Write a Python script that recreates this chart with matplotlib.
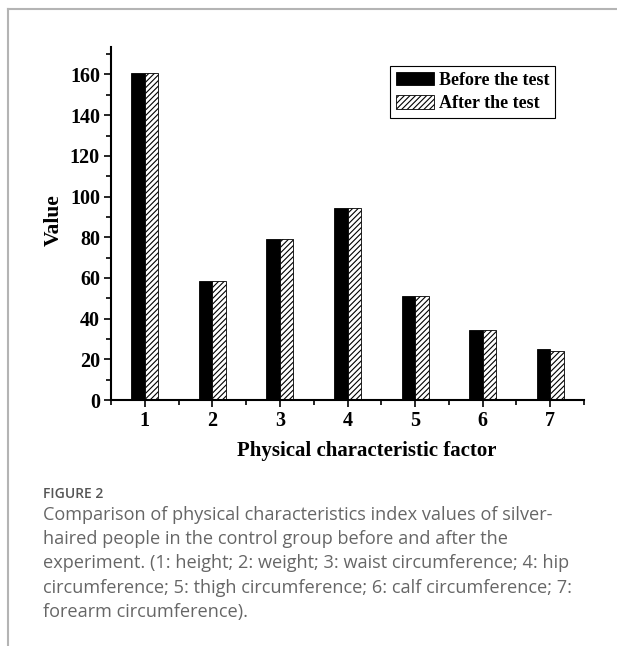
import matplotlib
matplotlib.use("Agg")
import matplotlib.pyplot as plt
import numpy as np
from matplotlib.lines import Line2D
from matplotlib.ticker import MultipleLocator

categories = [1, 2, 3, 4, 5, 6, 7]
before = [160.5, 58.6, 79.0, 94.2, 51.0, 34.6, 25.0]
after = [160.5, 58.6, 79.0, 94.2, 51.0, 34.6, 24.2]
labels = ["Before the test", "After the test"]
caption_head = "FIGURE 2"
caption_lines = [
    "Comparison of physical characteristics index values of silver-",
    "haired people in the control group before and after the",
    "experiment. (1: height; 2: weight; 3: waist circumference; 4: hip",
    "circumference; 5: thigh circumference; 6: calf circumference; 7:",
    "forearm circumference).",
]

plt.rcParams['hatch.linewidth'] = 0.8
serif = ['Liberation Serif', 'DejaVu Serif']

fig = plt.figure(figsize=(6.17, 6.46), dpi=100)
ax = fig.add_axes([0.18, 0.3808, 0.7665, 0.5464])

x = np.array(categories, dtype=float)
w = 0.2
ax.bar(x - w/2, before, width=w, color='black', edgecolor='black', linewidth=0.6, label=labels[0])
ax.bar(x + w/2, after, width=w, color='white', edgecolor='black', linewidth=0.6, hatch='//////', label=labels[1])

ax.set_xlim(0.5, 7.5)
ax.set_ylim(0, 173.5)
ax.xaxis.set_major_locator(MultipleLocator(1))
ax.xaxis.set_minor_locator(MultipleLocator(0.5))
ax.yaxis.set_major_locator(MultipleLocator(20))
ax.yaxis.set_minor_locator(MultipleLocator(10))
for s in ['top', 'right']:
    ax.spines[s].set_visible(False)
for s in ['left', 'bottom']:
    ax.spines[s].set_linewidth(1.5)
ax.tick_params(which='major', direction='out', length=5, width=1.2, labelsize=14.5, pad=3)
ax.tick_params(which='minor', direction='out', length=3.3, width=1.2)
for lab in ax.get_xticklabels() + ax.get_yticklabels():
    lab.set_fontfamily(serif)
    lab.set_fontweight('bold')

ax.set_xlabel("Physical characteristic factor", fontsize=15, fontweight='bold', family=serif, labelpad=6)
ax.xaxis.set_label_coords(0.541, -0.115)
ax.set_ylabel("Value", fontsize=15.5, fontweight='bold', family=serif)
ax.yaxis.set_label_coords(-0.10, 0.51)

leg = ax.legend(loc='upper right', bbox_to_anchor=(0.939, 0.946), borderaxespad=0,
                prop={'family': serif, 'weight': 'bold', 'size': 13},
                handlelength=2.1, handleheight=0.8, handletextpad=0.3,
                labelspacing=0.35, borderpad=0.3, fancybox=False, framealpha=1,
                edgecolor='black')
leg.get_frame().set_linewidth(0.8)

# figure frame lines
fig.add_artist(Line2D([8/617, 1], [1 - 9/646, 1 - 9/646], color='#b4b4b4', lw=1.5, transform=fig.transFigure))
fig.add_artist(Line2D([8/617, 8/617], [0, 1 - 9/646], color='#b4b4b4', lw=1.5, transform=fig.transFigure))

capcol = '#666666'
fig.text(43/617, 1 - 494/646, caption_head, fontsize=10, color='#555555', family='Open Sans', va='center', ha='left',
         fontweight='semibold')
for i, line in enumerate(caption_lines):
    fig.text(43/617, 1 - (515 + 24.2*i)/646, line, fontsize=13.1, color=capcol, family='Open Sans',
             va='center', ha='left')

fig.savefig("out.png", dpi=100)
